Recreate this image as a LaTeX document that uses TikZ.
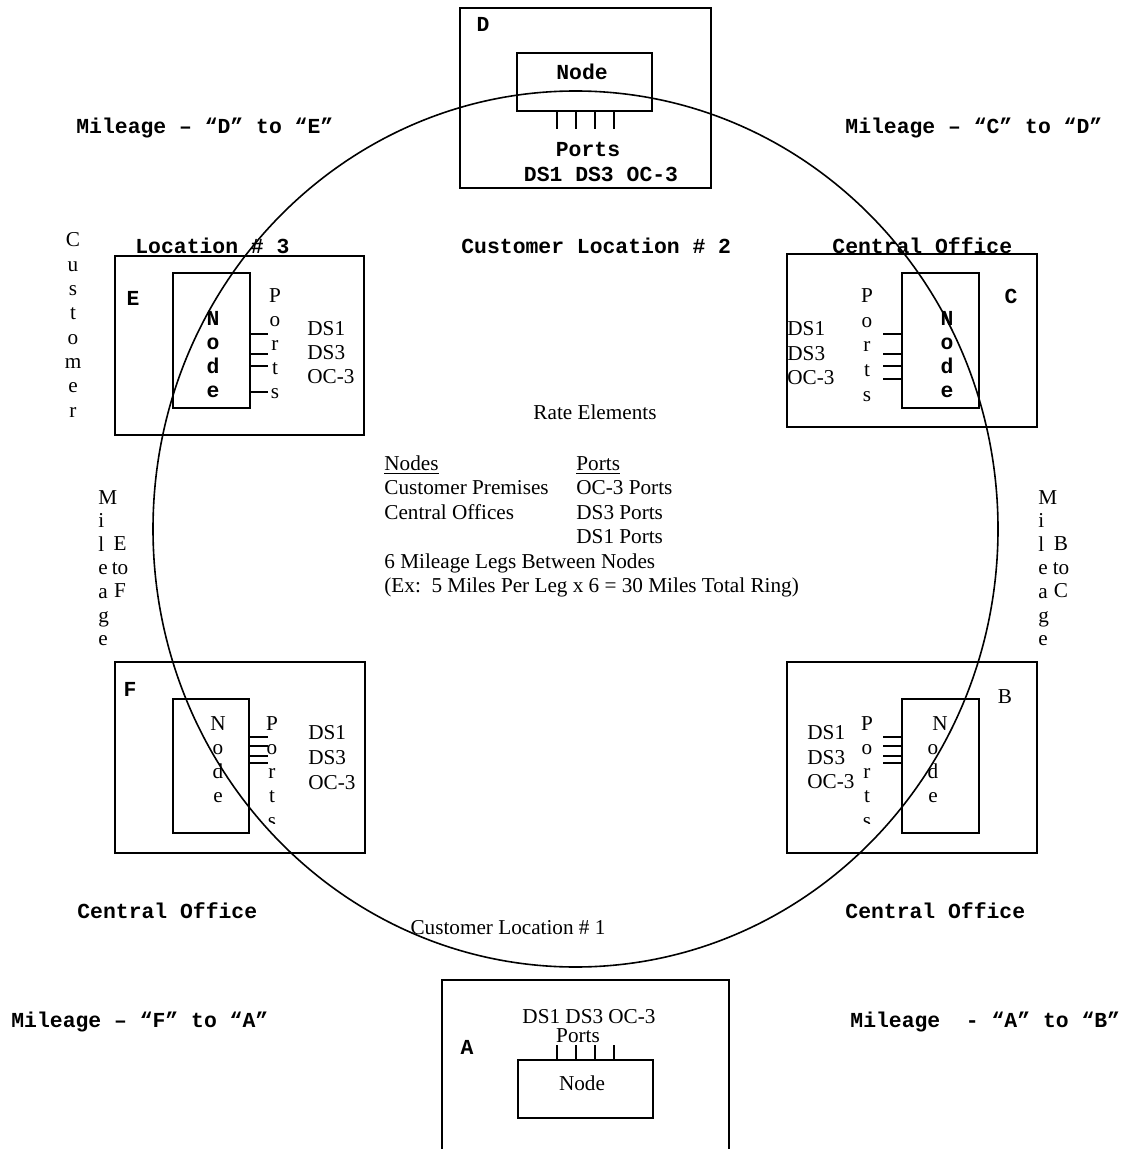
\documentclass[tikz,border=0pt]{standalone}
\usepackage{fontspec}
\setmainfont{Liberation Serif}
\setmonofont{Liberation Mono}
\usetikzlibrary{positioning}

\tikzset{
  frame/.style={thick},
  mono/.style={font=\ttfamily\bfseries\fontsize{10.7}{12}\selectfont, inner sep=0pt},
  serif/.style={font=\fontsize{10.6}{12}\selectfont, inner sep=0pt},
}

\begin{document}
\begin{tikzpicture}[x=0.5pt, y=-0.5pt]
  \useasboundingbox (0,0) rectangle (1134,1149);
  % ring
  \draw[thick] (575.5,529) ellipse [x radius=422.5, y radius=438];

  % D (top)
  \draw[frame] (460,8) rectangle (711,188);
  \draw[frame] (517,53) rectangle (652,111);
  \foreach \x in {557,576,595,614} \draw[frame] (\x,111) -- (\x,129);
  \node[mono] (labD) at (483,24) {D};
  \node[mono, anchor=base] (nodeD) at (582,80) {Node};
  \node[mono, anchor=base] (portD) at (588,157) {Ports};
  \node[mono, anchor=base] (rateD) at (601,182) {DS1 DS3 OC-3};

  % E (customer location 3)
  \draw[frame] (115,256) rectangle (364,435);
  \draw[frame] (173,273) rectangle (250,408);
  \foreach \y in {334,354,366,392} \draw[frame] (250,\y) -- (268,\y);
  \node[mono] (labE) at (133,298) {E};
  \foreach \ch [count=\i] in {N,o,d,e}
    \node[mono, anchor=base] (nE\i) at (213,302+24*\i) {\ch};
  \foreach \ch [count=\i] in {P,o,r,t,s}
    \node[serif, anchor=base] (pE\i) at (275,279+24*\i) {\ch};
  \foreach \t [count=\i] in {DS1,DS3,OC-3}
    \node[serif, anchor=base west] (dE\i) at (307,312+24*\i) {\t};
  \node[mono, anchor=base west] (locE) at (135,254) {Location \# 3};
  \foreach \ch [count=\i] in {C,u,s,t,o,m,e,r}
    \node[serif, anchor=base] (cu\i) at (73,222.7+24.3*\i) {\ch};

  % C (central office)
  \draw[frame] (787,254) rectangle (1037,427);
  \draw[frame] (902,273) rectangle (979,408);
  \foreach \y in {334,354,366,379} \draw[frame] (883,\y) -- (902,\y);
  \node[mono] (labC) at (1011,296) {C};
  \foreach \ch [count=\i] in {N,o,d,e}
    \node[mono, anchor=base] (nC\i) at (947,302+24*\i) {\ch};
  \foreach \ch [count=\i] in {P,o,r,t,s}
    \node[serif, anchor=base] (pC\i) at (867,278.5+24.5*\i) {\ch};
  \foreach \t [count=\i] in {DS1,DS3,OC-3}
    \node[serif, anchor=base west] (dC\i) at (787,311.5+24.5*\i) {\t};
  \node[mono, anchor=base west] (locC) at (832,254) {Central Office};

  % F (central office)
  \draw[frame] (115,662) rectangle (365,853);
  \draw[frame] (173,699) rectangle (249,833);
  \foreach \y in {737,746,756,763} \draw[frame] (249,\y) -- (268,\y);
  \node[mono] (labF) at (130,689) {F};
  \foreach \ch [count=\i] in {N,o,d,e}
    \node[serif, anchor=base] (nF\i) at (218,705.7+24.3*\i) {\ch};
  \begin{scope}
    \clip (255,700) rectangle (295,823);
    \foreach \ch [count=\i] in {P,o,r,t,s}
      \node[serif, anchor=base] (pF\i) at (272,705.7+24.3*\i) {\ch};
  \end{scope}
  \foreach \t [count=\i] in {DS1,DS3,OC-3}
    \node[serif, anchor=base west] (dF\i) at (308,714+25*\i) {\t};
  \node[mono, anchor=base west] (locF) at (77,918) {Central Office};

  % B (central office)
  \draw[frame] (787,662) rectangle (1037,853);
  \draw[frame] (902,699) rectangle (979,833);
  \foreach \y in {737,746,756,763} \draw[frame] (883,\y) -- (902,\y);
  \node[serif] (labB) at (1005,697) {B};
  \foreach \ch/\x [count=\i] in {N/940,o/933,d/933,e/933}
    \node[serif, anchor=base] (nB\i) at (\x,705.7+24.3*\i) {\ch};
  \begin{scope}
    \clip (850,700) rectangle (885,823);
    \foreach \ch [count=\i] in {P,o,r,t,s}
      \node[serif, anchor=base] (pB\i) at (867,705.7+24.3*\i) {\ch};
  \end{scope}
  \foreach \t [count=\i] in {DS1,DS3,OC-3}
    \node[serif, anchor=base west] (dB\i) at (807,715+24.5*\i) {\t};
  \node[mono, anchor=base west] (locB) at (845,918) {Central Office};

  % A (customer location 1)
  \draw[frame] (442,1149) -- (442,980) -- (729,980) -- (729,1149);
  \draw[frame] (518,1060) rectangle (653,1118);
  \foreach \x in {557,576,595,614} \draw[frame] (\x,1045) -- (\x,1060);
  \node[mono] (labA) at (467,1047) {A};
  \node[serif, anchor=base] (nodeA) at (582,1090) {Node};
  \node[serif, anchor=base] (portA) at (578,1042) {Ports};
  \node[serif, anchor=base] (rateA) at (589,1023) {DS1 DS3 OC-3};
  \node[serif, anchor=base] (locA) at (508,934) {Customer Location \# 1};

  % location 2 and mileage legs
  \node[mono, anchor=base west] (locD) at (461,254) {Customer Location \# 2};
  \node[mono, anchor=base west] (mDE) at (76,134) {Mileage – “D” to “E”};
  \node[mono, anchor=base west] (mCD) at (845,134) {Mileage – “C” to “D”};
  \node[mono, anchor=base west] (mFA) at (11,1027) {Mileage – “F” to “A”};
  \node[mono, anchor=base west] (mAB) at (850,1027) {Mileage\ \ - “A” to “B”};
  \foreach \ch [count=\i] in {M,i,l,e,a,g,e} {
    \node[serif, anchor=base west] (mEF\i) at (98,480.4+23.6*\i) {\ch};
    \node[serif, anchor=base west] (mBC\i) at (1038,480.4+23.6*\i) {\ch};
  }
  \foreach \t [count=\i] in {E,to,F}
    \node[serif, anchor=base] (tEF\i) at (120,527+23.6*\i) {\t};
  \foreach \t [count=\i] in {B,to,C}
    \node[serif, anchor=base] (tBC\i) at (1061,527+23.6*\i) {\t};

  % rate elements
  \node[serif, anchor=base] (rate) at (595,420) {Rate Elements};
  \node[serif, anchor=base west] (colN) at (384,470) {\underline{Nodes}};
  \node[serif, anchor=base west] (cp) at (384,494.5) {Customer Premises};
  \node[serif, anchor=base west] (co) at (384,519) {Central Offices};
  \foreach \t [count=\i] in {\underline{Ports},OC-3 Ports,DS3 Ports,DS1 Ports}
    \node[serif, anchor=base west] (colP\i) at (576,445.5+24.5*\i) {\t};
  \node[serif, anchor=base west] (legs) at (384,568) {6 Mileage Legs Between Nodes};
  \node[serif, anchor=base west] (ex) at (384,592.5) {(Ex:\ \ 5 Miles Per Leg x 6 = 30 Miles Total Ring)};
\end{tikzpicture}
\end{document}
